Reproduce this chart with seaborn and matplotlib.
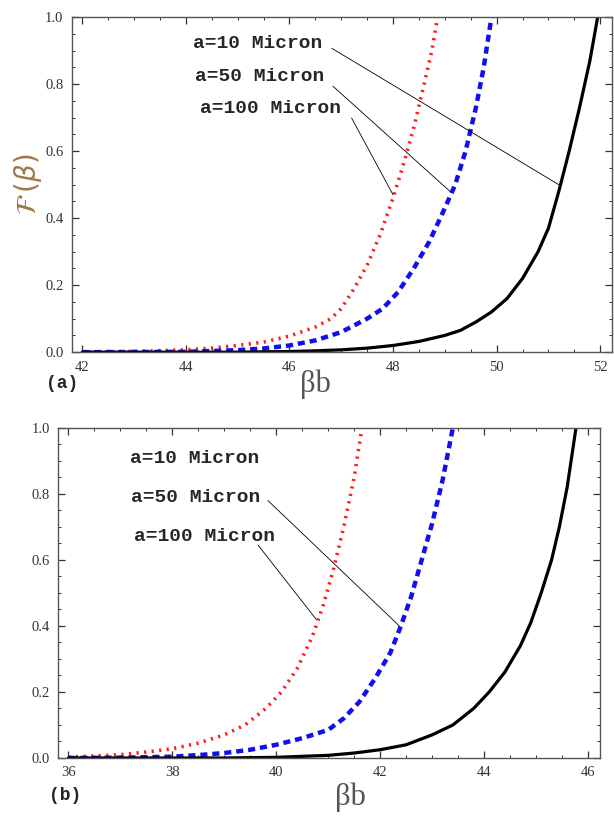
import numpy as np
import pandas as pd
import matplotlib
matplotlib.use('Agg')
import matplotlib.pyplot as plt
import seaborn as sns
from matplotlib.ticker import MultipleLocator

# panel (a) curves
a_x_100 = [42, 43, 44, 44.5, 45, 45.5, 46, 46.5, 46.8, 47, 47.25, 47.5, 47.75, 48, 48.2, 48.4, 48.6, 48.75, 48.86]
a_y_100 = [0.0, 0.002, 0.007, 0.012, 0.02, 0.03, 0.048, 0.075, 0.1, 0.13, 0.19, 0.26, 0.35, 0.46, 0.56, 0.67, 0.8, 0.9, 1.0]
a_x_50 = [42, 44, 45, 45.5, 46, 46.5, 47, 47.5, 47.8, 48.1, 48.4, 48.7, 49, 49.2, 49.4, 49.6, 49.75, 49.9]
a_y_50 = [0.0, 0.001, 0.006, 0.011, 0.02, 0.035, 0.06, 0.1, 0.13, 0.18, 0.25, 0.33, 0.43, 0.5, 0.6, 0.73, 0.85, 1.0]
a_x_10 = [42, 45, 46, 46.5, 47, 47.5, 48, 48.5, 49, 49.3, 49.6, 49.9, 50.2, 50.5, 50.8, 51.0, 51.2, 51.4, 51.6, 51.8, 51.95]
a_y_10 = [0.0, 0.0, 0.002, 0.004, 0.007, 0.012, 0.02, 0.032, 0.05, 0.065, 0.09, 0.12, 0.16, 0.22, 0.3, 0.37, 0.48, 0.6, 0.73, 0.87, 1.0]

# panel (b) curves
b_x_100 = [36, 36.5, 37, 37.5, 38, 38.5, 39, 39.4, 39.8, 40.1, 40.4, 40.7, 40.9, 41.1, 41.3, 41.5, 41.65]
b_y_100 = [0.003, 0.006, 0.01, 0.018, 0.028, 0.045, 0.07, 0.1, 0.15, 0.2, 0.27, 0.37, 0.46, 0.57, 0.7, 0.85, 1.0]
b_x_50 = [36, 37, 38, 38.6, 39, 39.5, 40, 40.5, 41, 41.3, 41.6, 41.9, 42.2, 42.4, 42.6, 42.8, 43, 43.2, 43.4]
b_y_50 = [0.0, 0.001, 0.004, 0.01, 0.015, 0.025, 0.04, 0.06, 0.085, 0.12, 0.17, 0.24, 0.32, 0.4, 0.49, 0.6, 0.71, 0.84, 1.0]
b_x_10 = [36, 39, 40, 41, 41.5, 42, 42.5, 43, 43.4, 43.8, 44.1, 44.4, 44.7, 44.9, 45.1, 45.3, 45.45, 45.6, 45.77]
b_y_10 = [0.0, 0.0, 0.002, 0.008, 0.015, 0.025, 0.04, 0.07, 0.1, 0.15, 0.2, 0.26, 0.34, 0.41, 0.5, 0.6, 0.7, 0.82, 1.0]

labels = ['a=10 Micron', 'a=50 Micron', 'a=100 Micron']

sns.set_style('ticks')
plt.rcParams['font.family'] = ['Liberation Serif', 'DejaVu Serif']

fig = plt.figure(figsize=(6.14, 8.19), dpi=100)
ax1 = fig.add_axes([0.117, 0.570, 0.880, 0.409])
ax2 = fig.add_axes([0.0945, 0.0745, 0.8825, 0.4030])


def draw(ax, xs10, ys10, xs50, ys50, xs100, ys100):
    sns.lineplot(x=xs100, y=ys100, ax=ax, color='#ff1a1a', lw=2.6, linestyle=(0, (0.6, 1.5)))
    sns.lineplot(x=xs50, y=ys50, ax=ax, color='#1010ee', lw=3.2, linestyle=(0, (1.6, 1.1)))
    sns.lineplot(x=xs10, y=ys10, ax=ax, color='black', lw=2.3)


def style(ax, xlo, xhi, xt):
    ax.set_xlim(xlo, xhi)
    ax.set_ylim(0, 1.0)
    ax.set_xticks(xt)
    ax.set_yticks([0, 0.2, 0.4, 0.6, 0.8, 1.0])
    ax.set_yticklabels(['0.0', '0.2', '0.4', '0.6', '0.8', '1.0'])
    ax.xaxis.set_minor_locator(MultipleLocator(0.5))
    ax.yaxis.set_minor_locator(MultipleLocator(0.05))
    ax.tick_params(which='both', direction='in', top=True, right=True, colors='#333333',
                   labelsize=10.5, pad=6)
    ax.tick_params(which='major', length=5, width=0.9)
    ax.tick_params(which='minor', length=2.5, width=0.7)
    for s in ax.spines.values():
        s.set_color('#555555')
        s.set_linewidth(1.0)


draw(ax1, a_x_10, a_y_10, a_x_50, a_y_50, a_x_100, a_y_100)
style(ax1, 41.8, 52.23, [42, 44, 46, 48, 50, 52])
draw(ax2, b_x_10, b_y_10, b_x_50, b_y_50, b_x_100, b_y_100)
style(ax2, 35.8, 46.23, [36, 38, 40, 42, 44, 46])

mono = dict(family='Liberation Mono', fontweight='bold', fontsize=14, va='center', ha='left')
line_kw = dict(arrowstyle='-', lw=0.6, color='black', shrinkA=0, shrinkB=0)

# panel (a) annotations
ax1.text(44.14, 0.922, labels[0], **mono)
ax1.text(44.18, 0.824, labels[1], **mono)
ax1.text(44.27, 0.728, labels[2], **mono)
ax1.annotate('', xy=(51.2, 0.5), xytext=(46.82, 0.907), arrowprops=line_kw)
ax1.annotate('', xy=(49.1, 0.48), xytext=(46.84, 0.794), arrowprops=line_kw)
ax1.annotate('', xy=(48.0, 0.47), xytext=(47.2, 0.699), arrowprops=line_kw)

# panel (b) annotations
ax2.text(37.18, 0.906, labels[0], **mono)
ax2.text(37.2, 0.79, labels[1], **mono)
ax2.text(37.27, 0.67, labels[2], **mono)
ax2.annotate('', xy=(42.37, 0.4), xytext=(39.84, 0.78), arrowprops=line_kw)
ax2.annotate('', xy=(40.77, 0.42), xytext=(39.65, 0.645), arrowprops=line_kw)

ax1.set_ylabel(r'$\mathcal{F}\,(\beta)$', fontsize=20, color='#a07848', labelpad=1)
ax1.set_xlabel('')
ax2.set_xlabel('')

fig.text(0.513, 0.531, 'βb', fontsize=22, color='#555555', ha='center', va='center')
fig.text(0.570, 0.027, 'βb', fontsize=22, color='#555555', ha='center', va='center')
fig.text(0.101, 0.532, '(a)', family='Liberation Mono', fontweight='bold', fontsize=13,
         ha='center', va='center')
fig.text(0.106, 0.029, '(b)', family='Liberation Mono', fontweight='bold', fontsize=13,
         ha='center', va='center')

fig.savefig('out.png', dpi=100)
